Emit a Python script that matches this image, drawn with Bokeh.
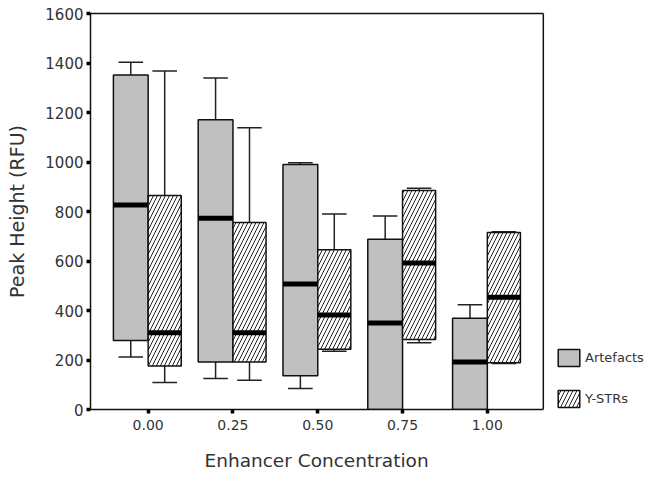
from bokeh.plotting import figure
from bokeh.models import (ColumnDataSource, FixedTicker, Legend, LegendItem,
                          LinearAxis, Span, Title)
from bokeh.embed import file_html
from bokeh.resources import INLINE

# ---- data ----
concentrations = ["0.00", "0.25", "0.50", "0.75", "1.00"]

art_low = [212, 125, 85, 0, 0]
art_q1 = [279, 192, 136, 0, 0]
art_med = [826, 773, 507, 349, 192]
art_q3 = [1352, 1171, 990, 688, 369]
art_high = [1403, 1339, 997, 782, 423]

ystr_low = [109, 118, 235, 270, 186]
ystr_q1 = [176, 192, 243, 283, 189]
ystr_med = [310, 310, 382, 592, 454]
ystr_q3 = [865, 756, 645, 885, 715]
ystr_high = [1368, 1138, 790, 894, 718]

y_ticks = [0, 200, 400, 600, 800, 1000, 1200, 1400, 1600]

# ---- layout helpers ----
idx = list(range(len(concentrations)))
ART_W = 0.41
YS_W = 0.39
CAP = 0.145
X_LO, X_HI = -0.68, 4.66          # boxed plot area
X_VIEW_HI = 5.983                 # extra room on the right for the legend

def build(offset_left, width, low, q1, med, q3, high):
    left = [i + offset_left for i in idx]
    right = [l + width for l in left]
    center = [(l + r) / 2 for l, r in zip(left, right)]
    return ColumnDataSource(dict(
        left=left, right=right, center=center,
        cap_l=[c - CAP for c in center], cap_r=[c + CAP for c in center],
        low=low, q1=q1, med=med, q3=q3, high=high,
    ))

art = build(-ART_W, ART_W, art_low, art_q1, art_med, art_q3, art_high)
ys = build(0.0, YS_W, ystr_low, ystr_q1, ystr_med, ystr_q3, ystr_high)

p = figure(width=655, height=485, output_backend="svg", toolbar_location=None,
           x_range=(X_LO, X_VIEW_HI), y_range=(0, 1600),
           min_border_left=90, min_border_right=0, min_border_top=13,
           min_border_bottom=75)

TEXT_COL = "#333333"
FONT = "DejaVu Sans"

def draw(src, fill, hatch):
    p.segment(x0="center", y0="q3", x1="center", y1="high", source=src,
              line_color="#222222", line_width=1.5)
    p.segment(x0="center", y0="low", x1="center", y1="q1", source=src,
              line_color="#222222", line_width=1.5)
    p.segment(x0="cap_l", y0="high", x1="cap_r", y1="high", source=src,
              line_color="#222222", line_width=1.5)
    p.segment(x0="cap_l", y0="low", x1="cap_r", y1="low", source=src,
              line_color="#222222", line_width=1.5)
    kw = dict(left="left", right="right", bottom="q1", top="q3", source=src,
              fill_color=fill, line_color="#111111", line_width=1.5)
    if hatch:
        kw.update(hatch_pattern="/", hatch_color="#222222", hatch_scale=8,
                  hatch_weight=1)
    r = p.quad(**kw)
    p.segment(x0="left", y0="med", x1="right", y1="med", source=src,
              line_color="black", line_width=5)
    return r

r_art = draw(art, "#c0c0c0", False)
r_ys = draw(ys, "white", True)

# axes / frame
p.xgrid.visible = False
p.ygrid.visible = False
p.outline_line_color = None

p.xaxis.ticker = FixedTicker(ticks=idx)
p.xaxis.major_label_overrides = {i: c for i, c in zip(idx, concentrations)}
p.xaxis.bounds = (X_LO, X_HI)
p.yaxis.ticker = FixedTicker(ticks=y_ticks)

for ax in (p.xaxis[0], p.yaxis[0]):
    ax.axis_line_color = "#111111"
    ax.axis_line_width = 1.5
    ax.major_tick_in = 0
    ax.major_tick_out = 4
    ax.major_tick_line_width = 3.5
    ax.major_tick_line_color = "black"
    ax.minor_tick_line_color = None
    ax.major_label_text_font = FONT
    ax.major_label_text_color = TEXT_COL
    ax.axis_label_text_font = FONT
    ax.axis_label_text_font_style = "normal"
    ax.axis_label_text_color = TEXT_COL

p.xaxis.major_label_text_font_size = "14px"
p.yaxis.major_label_text_font_size = "15px"
p.yaxis.axis_label = "Peak Height (RFU)"
p.yaxis.axis_label_text_font_size = "19px"
p.xaxis.major_label_standoff = 6
p.yaxis.major_label_standoff = 3
p.yaxis.axis_label_standoff = 14

# x-axis title, centred under the boxed area
p.add_layout(Title(text="Enhancer Concentration", align="left", offset=114,
                   text_font=FONT, text_font_size="18.5px",
                   text_font_style="normal", text_color=TEXT_COL,
                   standoff=30), "below")

# top border of the boxed area
top_axis = LinearAxis(ticker=FixedTicker(ticks=[]), bounds=(X_LO, X_HI),
                      axis_line_color="#111111", axis_line_width=1.5,
                      major_tick_line_color=None, minor_tick_line_color=None,
                      major_label_text_font_size="0px")
p.add_layout(top_axis, "above")
# right border of the boxed area
p.add_layout(Span(location=X_HI, dimension="height", line_color="#111111",
                  line_width=1.5))

legend = Legend(items=[LegendItem(label="Artefacts", renderers=[r_art]),
                       LegendItem(label="Y-STRs", renderers=[r_ys])],
                location=(465, 0), padding=0, margin=0, spacing=20,
                glyph_width=27, glyph_height=21, label_height=21,
                label_standoff=3, border_line_color=None,
                background_fill_alpha=0,
                label_text_font=FONT, label_text_font_size="13px",
                label_text_color=TEXT_COL)
p.add_layout(legend, "center")

open("out.html", "w").write(file_html(p, INLINE))
